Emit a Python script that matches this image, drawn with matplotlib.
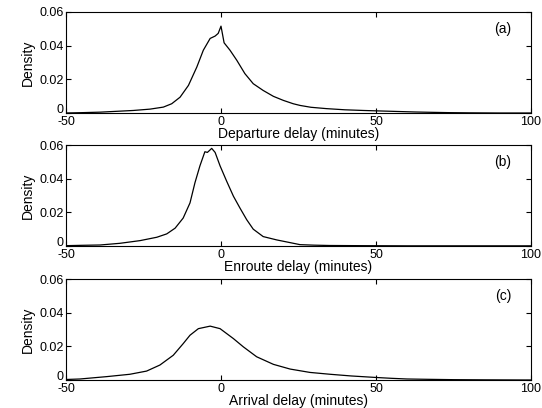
import matplotlib
matplotlib.use('Agg')
import matplotlib.pyplot as plt
import numpy as np

plt.rcParams['font.family'] = ['Liberation Sans', 'DejaVu Sans']
plt.rcParams['axes.unicode_minus'] = False

# departure delay density (panel a)
dep_x = [-50, -45, -39, -28.3, -22.9, -18.6, -15.9, -13.2, -10.5, -7.8, -5.7, -3.5, -1.9, -0.9, 0,
         1.0, 2.9, 5.1, 7.7, 10.4, 13.6, 16.9, 20.1, 23.3, 25.5, 29, 34, 40, 46, 51.5, 57, 62.6, 68,
         74, 80, 90, 100]
dep_y = [0.0, 0.0002, 0.0005, 0.0015, 0.0023, 0.0035, 0.0055, 0.0094, 0.0164, 0.0273, 0.0373,
         0.0443, 0.0457, 0.0473, 0.0516, 0.0417, 0.0373, 0.0313, 0.0234, 0.0174, 0.0134, 0.0099,
         0.0075, 0.0055, 0.0045, 0.0034, 0.0026, 0.0019, 0.0015, 0.0012, 0.0009, 0.0006, 0.0004,
         0.0002, 0.0001, 0.0, 0.0]

# enroute delay density (panel b)
enr_x = [-50, -45, -39, -32.6, -26.1, -20.7, -17.5, -14.8, -12.2, -10, -8.4, -6.8, -5.2, -4.4,
         -3.8, -3.0, -1.9, -0.3, 1.8, 4.0, 6.1, 8.3, 10.4, 13.6, 18, 22.3, 25.5, 30, 35, 45, 60,
         80, 100]
enr_y = [0.0002, 0.0004, 0.0006, 0.0016, 0.0032, 0.0052, 0.0072, 0.0106, 0.0166, 0.0256, 0.0376,
         0.0476, 0.056, 0.0556, 0.0566, 0.058, 0.0556, 0.0476, 0.0386, 0.0296, 0.0226, 0.0156,
         0.010, 0.0056, 0.0036, 0.002, 0.0008, 0.0005, 0.0003, 0.0002, 0.0001, 0.0001, 0.0001]

# arrival delay density (panel c)
arr_x = [-50, -45.5, -36.9, -29.4, -24, -19.7, -15.4, -12.2, -10, -7.3, -3.5, -0.3, 4, 7.2, 11.5,
         16.9, 22.3, 28.7, 35.2, 42, 50, 55, 60, 67, 75, 85, 100]
arr_y = [0.0003, 0.0006, 0.002, 0.0034, 0.0053, 0.0089, 0.0147, 0.0216, 0.0266, 0.0305, 0.032,
         0.0305, 0.0246, 0.0197, 0.0138, 0.0093, 0.0065, 0.0045, 0.0034, 0.0024, 0.0015, 0.001,
         0.0006, 0.0004, 0.0002, 0.0001, 0.0]

panels = [
    (dep_x, dep_y, 'Departure delay (minutes)', '(a)'),
    (enr_x, enr_y, 'Enroute delay (minutes)', '(b)'),
    (arr_x, arr_y, 'Arrival delay (minutes)', '(c)'),
]

W, H = 542, 408
fig = plt.figure(figsize=(W / 100, H / 100), dpi=100)
# axes boxes in pixels: left, top, right, bottom
boxes = [(66, 12, 531, 113), (66, 145, 531, 246), (66, 279, 531, 380)]

for (x, y, xlabel, tag), (l, t, r, b) in zip(panels, boxes):
    ax = fig.add_axes([l / W, 1 - b / H, (r - l) / W, (b - t) / H])
    ax.plot(x, y, color='black', lw=0.9)
    ax.set_xlim(-50, 100)
    ax.set_ylim(0, 0.06)
    ax.set_xticks([-50, 0, 50, 100])
    ax.set_yticks([0, 0.02, 0.04, 0.06])
    ax.set_yticklabels(['0', '0.02', '0.04', '0.06'])
    ax.tick_params(direction='in', top=True, right=True, length=3.5, width=0.8,
                   labelsize=9)
    ax.tick_params(axis='x', pad=2)
    ax.tick_params(axis='y', pad=1.5)
    # "0" sits on the axis line, clear of the "-50" below it
    ax.get_yticklabels()[0].set_va('baseline')
    for s in ax.spines.values():
        s.set_linewidth(0.8)
    ax.set_xlabel(xlabel, fontsize=10, labelpad=-0.5)
    ax.set_ylabel('Density', fontsize=10, labelpad=3)
    ax.text(91, 0.05, tag, fontsize=10, ha='center', va='center')

fig.savefig('out.png', dpi=100)
